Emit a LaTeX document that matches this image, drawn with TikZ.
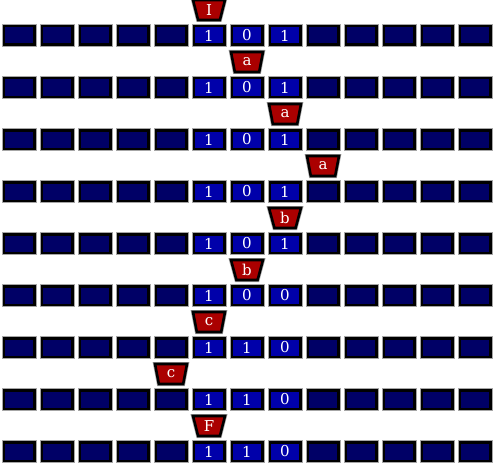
\documentclass[tikz,border=0pt]{standalone}
\usepackage{fontspec}
\setmainfont{DejaVu Serif}
\usetikzlibrary{shapes.geometric}
\definecolor{tapeblank}{RGB}{0,0,102}
\definecolor{tapemark}{RGB}{0,0,170}
\definecolor{headred}{RGB}{170,0,0}

\begin{document}
\begin{tikzpicture}[
  x=1pt, y=-1pt,
  font=\fontsize{15}{15}\selectfont,
  cell/.style={draw=black, line width=2.5pt, fill=tapeblank, minimum width=30.5pt, minimum height=18.5pt, inner sep=0pt, text=white, preaction={draw=gray!70, line width=4.5pt}},
  filled/.style={cell, fill=tapemark},
  head/.style={trapezium, shape border rotate=180, trapezium angle=65, trapezium stretches body, minimum width=32pt, minimum height=20pt, inner sep=0pt, draw=black, line width=2.6pt, fill=headred, text=white, preaction={draw=gray!70, line width=4pt}}
]
  \useasboundingbox (0,0) rectangle (494,468);

  % row / head cell / state / tape contents
  \foreach \r/\h/\s/\a/\b/\c in {0/5/I/1/0/1, 1/6/a/1/0/1, 2/7/a/1/0/1, 3/8/a/1/0/1, 4/7/b/1/0/1, 5/6/b/1/0/0, 6/5/c/1/1/0, 7/4/c/1/1/0, 8/5/F/1/1/0} {
    \foreach \i in {0,1,2,3,4,8,9,10,11,12}
      \node[cell] (t\r-\i) at (38*\i+19, 52*\r+35.5) {};
    \node[filled] (t\r-5) at (209, 52*\r+35.5) {\a};
    \node[filled] (t\r-6) at (247, 52*\r+35.5) {\b};
    \node[filled] (t\r-7) at (285, 52*\r+35.5) {\c};

    \node[head] (h\r) at (38*\h+19, 52*\r+10) {\s};
  }
\end{tikzpicture}
\end{document}
